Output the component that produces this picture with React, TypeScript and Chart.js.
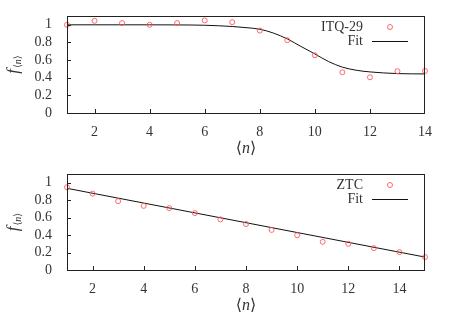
import React, { useEffect, useRef } from "react";
import { Chart, registerables } from "chart.js";

Chart.register(...registerables);

// ---- data ----
const topN = [1, 2, 3, 4, 5, 6, 7, 8, 9, 10, 11, 12, 13, 14];
const topValues = [1.0, 1.045, 1.02, 1.0, 1.02, 1.05, 1.03, 0.935, 0.826, 0.655, 0.462, 0.405, 0.474, 0.477];
const topFitN = [1, 2, 3, 4, 5, 6, 7, 7.5, 8, 8.5, 9, 9.5, 10, 10.5, 11, 11.5, 12, 13, 14];
const topFitValues = [1.0, 1.0, 1.0, 1.0, 0.999, 0.995, 0.981, 0.968, 0.95, 0.906, 0.84, 0.754, 0.67, 0.583, 0.52, 0.485, 0.466, 0.447, 0.443];
const topLabel = "ITQ-29";

const bottomN = [1, 2, 3, 4, 5, 6, 7, 8, 9, 10, 11, 12, 13, 14, 15];
const bottomValues = [0.948, 0.875, 0.789, 0.735, 0.709, 0.652, 0.58, 0.527, 0.459, 0.398, 0.323, 0.3, 0.25, 0.205, 0.148];
const bottomFitN = [1, 15];
const bottomFitValues = [0.936, 0.148];
const bottomLabel = "ZTC";
const fitLabel = "Fit";

const xTicks = [2, 4, 6, 8, 10, 12, 14];
const yTicks = [0, 0.2, 0.4, 0.6, 0.8, 1];

const FONT = "'Liberation Serif', 'DejaVu Serif', serif";
const MARK = "rgba(255, 90, 90, 0.9)";

const decoPlugin = {
  id: "deco",
  afterDraw(chart: any) {
    const ctx = chart.ctx as CanvasRenderingContext2D;
    const a = chart.chartArea;
    const xs = chart.scales.x;
    const ys = chart.scales.y;
    ctx.save();
    // frame
    ctx.strokeStyle = "#222";
    ctx.lineWidth = 1;
    ctx.strokeRect(Math.round(a.left) + 0.5, Math.round(a.top) + 0.5, Math.round(a.right - a.left) - 1, Math.round(a.bottom - a.top));
    // inward ticks
    ctx.beginPath();
    xTicks.forEach((t) => {
      const px = Math.round(xs.getPixelForValue(t)) + 0.5;
      if (px > a.left + 1 && px < a.right - 1) {
        ctx.moveTo(px, a.bottom);
        ctx.lineTo(px, a.bottom - 4);
      }
    });
    yTicks.forEach((t) => {
      const py = Math.round(ys.getPixelForValue(t)) + 0.5;
      if (py < a.bottom - 1) {
        ctx.moveTo(a.left, py);
        ctx.lineTo(a.left + 4, py);
      }
    });
    ctx.stroke();

    // x title <n>
    ctx.fillStyle = "#333";
    ctx.textBaseline = "middle";
    const cx = (a.left + a.right) / 2;
    const ty = a.bottom + 36;
    const up = "16px " + FONT;
    const it = "italic 16px " + FONT;
    ctx.font = up;
    const wl = ctx.measureText("⟨").width;
    ctx.font = it;
    const wn = ctx.measureText("n").width;
    ctx.font = up;
    const wr = ctx.measureText("⟩").width;
    let x0 = cx - (wl + wn + wr) / 2;
    ctx.textAlign = "left";
    ctx.font = up;
    ctx.fillText("⟨", x0, ty);
    ctx.font = it;
    ctx.fillText("n", x0 + wl, ty);
    ctx.font = up;
    ctx.fillText("⟩", x0 + wl + wn, ty);

    // y title f_<n>
    ctx.save();
    ctx.translate(14, (a.top + a.bottom) / 2);
    ctx.rotate(-Math.PI / 2);
    const fF = "italic 17px " + FONT;
    const sU = "10px " + FONT;
    const sI = "italic 10px " + FONT;
    ctx.font = fF;
    const wf = ctx.measureText("f").width + 1;
    ctx.font = sU;
    const sl = ctx.measureText("⟨").width;
    const sr = ctx.measureText("⟩").width;
    ctx.font = sI;
    const sn = ctx.measureText("n").width;
    const tot = wf + sl + sn + sr;
    let y0 = -tot / 2;
    ctx.font = fF;
    ctx.fillText("f", y0, 0);
    ctx.font = sU;
    ctx.fillText("⟨", y0 + wf, 4);
    ctx.font = sI;
    ctx.fillText("n", y0 + wf + sl, 4);
    ctx.font = sU;
    ctx.fillText("⟩", y0 + wf + sl + sn, 4);
    ctx.restore();

    // legend
    const ds = chart.data.datasets;
    ctx.font = "14px " + FONT;
    ctx.textAlign = "right";
    ctx.fillStyle = "#333";
    ctx.fillText(ds[0].label, 363, a.top + 11);
    ctx.fillText(ds[1].label, 363, a.top + 25);
    ctx.beginPath();
    ctx.strokeStyle = MARK;
    ctx.arc(390, a.top + 11, 2.5, 0, Math.PI * 2);
    ctx.stroke();
    ctx.beginPath();
    ctx.strokeStyle = "#111";
    ctx.moveTo(372, a.top + 25.5);
    ctx.lineTo(408, a.top + 25.5);
    ctx.stroke();
    ctx.restore();
  },
};

function makeConfig(n: number[], v: number[], fn: number[], fv: number[], label: string, xmax: number): any {
  return {
    type: "scatter",
    data: {
      datasets: [
        {
          label,
          data: n.map((x, i) => ({ x, y: v[i] })),
          pointStyle: "circle",
          pointRadius: 2.5,
          pointBorderWidth: 1,
          borderColor: MARK,
          backgroundColor: "rgba(0,0,0,0)",
          showLine: false,
          clip: false,
          order: 1,
        },
        {
          label: fitLabel,
          data: fn.map((x, i) => ({ x, y: fv[i] })),
          showLine: true,
          pointRadius: 0,
          borderColor: "#111",
          borderWidth: 1,
          cubicInterpolationMode: "monotone",
          order: 2,
        },
      ],
    },
    options: {
      animation: false,
      responsive: false,
      devicePixelRatio: 1,
      layout: { padding: { top: 16, right: 25, left: 0, bottom: 0 } },
      plugins: { legend: { display: false }, tooltip: { enabled: false } },
      scales: {
        x: {
          type: "linear",
          min: 1,
          max: xmax,
          grid: { display: false },
          border: { display: false },
          afterBuildTicks: (s: any) => {
            s.ticks = xTicks.map((t) => ({ value: t }));
          },
          afterFit: (s: any) => {
            s.height = 45;
          },
          ticks: {
            padding: 3,
            color: "#333",
            font: { family: FONT, size: 14 },
            maxRotation: 0,
            autoSkip: false,
            callback: (val: any) => String(val),
          },
        },
        y: {
          type: "linear",
          min: 0,
          max: 1.1,
          grid: { display: false },
          border: { display: false },
          afterBuildTicks: (s: any) => {
            s.ticks = yTicks.map((t) => ({ value: t }));
          },
          afterFit: (s: any) => {
            s.width = 67;
          },
          ticks: {
            padding: 7,
            color: "#333",
            font: { family: FONT, size: 14 },
            autoSkip: false,
            callback: (val: any) => String(Math.round(val * 10) / 10),
          },
        },
      },
    },
    plugins: [decoPlugin],
  };
}

function ChartCanvas({ cfg, w, h }: { cfg: any; w: number; h: number }) {
  const ref = useRef<HTMLCanvasElement | null>(null);
  useEffect(() => {
    if (!ref.current) return;
    const c = new Chart(ref.current, cfg);
    return () => c.destroy();
  }, []);
  return <canvas ref={ref} width={w} height={h} style={{ display: "block", width: w, height: h }} />;
}

export default function App() {
  return (
    <div style={{ position: "absolute", left: 0, top: 0, width: 450, height: 315, background: "#fff" }}>
      <ChartCanvas cfg={makeConfig(topN, topValues, topFitN, topFitValues, topLabel, 14)} w={450} h={158} />
      <ChartCanvas cfg={makeConfig(bottomN, bottomValues, bottomFitN, bottomFitValues, bottomLabel, 15)} w={450} h={157} />
    </div>
  );
}
